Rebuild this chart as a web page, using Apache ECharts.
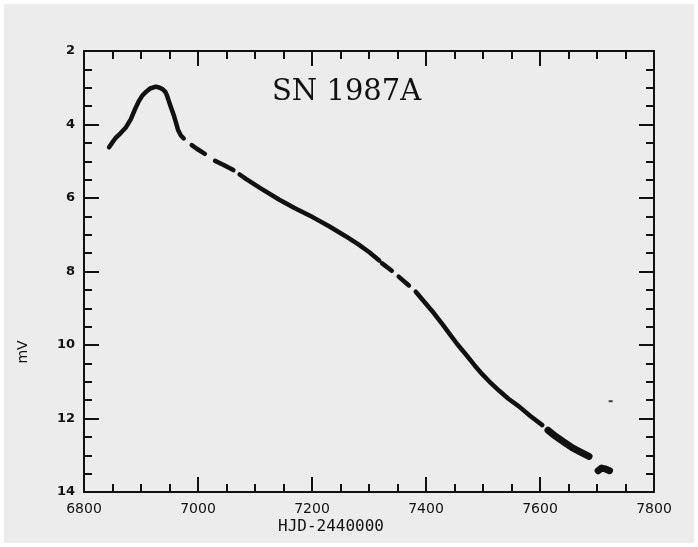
<!DOCTYPE html>
<html>
<head>
<meta charset="utf-8">
<script src="https://cdn.jsdelivr.net/npm/echarts@6/dist/echarts.min.js"></script>
<style>
html,body{margin:0;padding:0;background:#ffffff;}
#chart{width:698px;height:547px;}
</style>
</head>
<body>
<div id="chart"></div>
<script>
// Light curve segments of SN 1987A (HJD-2440000, mV); null marks a gap in coverage
const curveMain = [
  [6844,4.62],[6850,4.48],[6856,4.36],[6864,4.24],[6873,4.09],[6882,3.86],[6889,3.60],[6896,3.37],
  [6902,3.22],[6908,3.12],[6916,3.02],[6926,2.97],[6933,3.00],[6938,3.04],[6943,3.12],[6946,3.23],
  [6949,3.37],[6953,3.55],[6958,3.77],[6962,3.98],[6965,4.15],[6970,4.30],[6975,4.38],
  null,
  [6989,4.56],[6998,4.66],[7012,4.80],
  null,
  [7030,4.99],[7045,5.10],[7062,5.24],
  null,
  [7073,5.36],[7084,5.48],[7110,5.74],[7142,6.04],[7170,6.28],[7201,6.52],[7230,6.77],[7259,7.04],
  [7282,7.27],[7300,7.47],[7318,7.70],
  null,
  [7323,7.78],[7340,7.98],
  null,
  [7352,8.14],[7370,8.38],
  null,
  [7382,8.55],[7411,9.08],[7430,9.46],[7440,9.67],[7455,9.98],[7470,10.26],[7485,10.55],[7499,10.80],
  [7514,11.04],[7528,11.24],[7545,11.47],[7563,11.67],[7583,11.93],[7604,12.18]
];
const curveLate = [
  [7614,12.32],[7627,12.48],[7642,12.64],[7657,12.80],[7672,12.92],[7686,13.03],
  null,
  [7702,13.42],[7708,13.35],[7716,13.38],[7722,13.42]
];
const strayPoint = [[7724,11.53]];
const xTicks = [6800,7000,7200,7400,7600,7800];
const yTicks = [2,4,6,8,10,12,14];

const chart = echarts.init(document.getElementById('chart'), null, {renderer:'canvas'});
const axisCommon = {
  axisLine:{show:true, onZero:false, lineStyle:{color:'#111', width:2}},
  axisTick:{show:true, inside:true, length:15, lineStyle:{color:'#111', width:2}},
  minorTick:{show:true, splitNumber:4, length:8, lineStyle:{color:'#111', width:2}},
  splitLine:{show:false}
};
chart.setOption({
  backgroundColor:'#ffffff',
  animation:false,
  graphic:[
    {type:'rect', z:-10, silent:true, shape:{x:4,y:4,width:690,height:539}, style:{fill:'#ececec'}},
    {type:'text', left:272, top:78, style:{text:'SN 1987A', font:'29px "DejaVu Serif"', fill:'#111'}},
    {type:'text', x:331, y:527, style:{text:'HJD-2440000', font:'16px "DejaVu Sans Mono"', fill:'#111', textAlign:'center', textVerticalAlign:'middle'}},
    {type:'text', x:23, y:352, rotation:Math.PI/2, style:{text:'mV', font:'14px "DejaVu Sans"', fill:'#111', textAlign:'center', textVerticalAlign:'middle'}}
  ],
  grid:{left:84, right:44, top:51, bottom:55},
  xAxis:[
    Object.assign({type:'value', position:'bottom', min:xTicks[0], max:xTicks[xTicks.length-1], interval:200,
      axisLabel:{show:true, margin:10, color:'#111', fontSize:14, fontFamily:'DejaVu Sans', formatter:function(v){return String(v);}}}, axisCommon),
    Object.assign({type:'value', position:'top', min:xTicks[0], max:xTicks[xTicks.length-1], interval:200,
      axisLabel:{show:false}}, axisCommon)
  ],
  yAxis:[
    Object.assign({type:'value', position:'left', inverse:true, min:yTicks[0], max:yTicks[yTicks.length-1], interval:2,
      axisLabel:{show:true, margin:9, color:'#111', fontSize:13, fontWeight:'bold', fontFamily:'DejaVu Sans', formatter:function(v){return String(v);}}}, axisCommon),
    Object.assign({type:'value', position:'right', inverse:true, min:yTicks[0], max:yTicks[yTicks.length-1], interval:2,
      axisLabel:{show:false}}, axisCommon)
  ],
  series:[
    {type:'line', data:curveMain, showSymbol:false, connectNulls:false, lineStyle:{color:'#111', width:4.5, cap:'round', join:'round'}, smooth:false},
    {type:'line', data:curveLate, showSymbol:false, connectNulls:false, lineStyle:{color:'#111', width:7, cap:'round', join:'round'}},
    {type:'scatter', data:strayPoint, symbol:'rect', symbolSize:[4,2], itemStyle:{color:'#111'}}
  ]
});
</script>
</body>
</html>
